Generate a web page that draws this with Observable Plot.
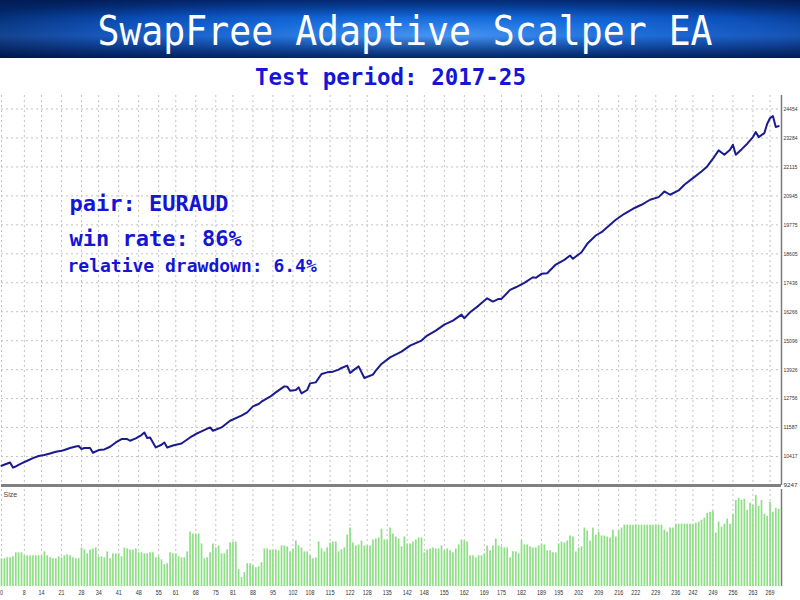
<!DOCTYPE html>
<html><head><meta charset="utf-8">
<script src="https://cdn.jsdelivr.net/npm/d3@7"></script>
<script src="https://cdn.jsdelivr.net/npm/@observablehq/plot@0.6"></script>
<style>
html,body{margin:0;padding:0;background:#fff;}
body{width:800px;height:600px;overflow:hidden;}
#banner{position:relative;height:58px;overflow:hidden;
 background:
  linear-gradient(180deg, rgba(0,18,70,0.6) 0%, rgba(0,0,0,0) 30%, rgba(255,255,255,0.06) 62%, rgba(0,12,55,0.7) 100%),
  radial-gradient(ellipse 62% 95% at 55% 62%, #3a8ff2 0%, #1166d8 38%, #0a4db6 68%, #042c70 100%);}
#banner .t{position:absolute;left:0;width:800px;top:2px;line-height:58px;text-align:center;color:#fff;
 font-family:"DejaVu Sans Mono",monospace;font-size:41px;transform:scaleX(0.89);transform-origin:405px 0;padding-left:10px;box-sizing:border-box;}
#sub{height:33px;line-height:38px;text-align:center;padding-right:19px;color:#1515d5;
 font-family:"DejaVu Sans Mono",monospace;font-weight:bold;font-size:22.5px;}
svg{display:block;}
</style></head><body>
<div id="banner"><div class="t">SwapFree Adaptive Scalper EA</div></div>
<div id="sub">Test period: 2017-25</div>
<div id="main"></div>
<div id="vol"></div>
<script>
// Balance curve: trade number and balance
const trades = [
  0,3,4,5,7,9,11,13,15,17,
  19,21,22,24,26,27,28,29,31,32,
  34,36,38,40,42,44,45,47,49,50,
  51,52,54,56,57,58,60,63,64,66,
  68,70,73,74,77,80,84,86,88,90,
  91,94,96,99,100,101,103,104,105,107,
  108,110,112,114,116,118,119,121,122,123,
  125,127,130,131,133,136,140,143,147,149,
  152,155,158,161,162,164,167,170,172,174,
  175,178,180,183,186,187,189,191,194,197,
  199,200,203,205,208,210,212,215,218,221,
  224,227,230,232,234,237,239,242,245,247,
  249,251,253,255,256,257,259,261,263,264,
  265,267,268,269,270,271,272
];
const balance = [
  10044,10177,9975,10015,10137,10246,10355,10436,10476,10541,
  10610,10650,10679,10759,10824,10840,10719,10759,10759,10569,
  10679,10703,10812,10986,11123,11123,11055,11148,11285,11390,
  11164,11188,10784,10893,10986,10784,10865,10945,11026,11188,
  11326,11431,11593,11459,11593,11863,12066,12199,12442,12539,
  12632,12834,13008,13251,13238,13077,13105,13210,12967,13105,
  13372,13412,13752,13817,13845,13926,13995,14088,13792,13886,
  14059,13590,13724,13886,14156,14423,14654,14897,15099,15301,
  15503,15746,15907,16150,16000,16243,16514,16809,16676,16785,
  16785,17149,17254,17432,17659,17634,17796,17820,18172,18362,
  18536,18403,18670,19009,19345,19478,19681,19980,20222,20425,
  20586,20789,20894,21124,20991,21165,21395,21662,21933,22135,
  22447,22782,22608,22811,23013,22608,22823,23053,23320,23522,
  23320,23482,23862,24088,24169,23725,23765
];
// Lot size of each trade (trade 0 .. 272)
const sizes = [
  0.28,0.28,0.29,0.29,0.30,0.34,0.34,0.34,0.31,0.31,
  0.31,0.31,0.31,0.31,0.31,0.35,0.31,0.29,0.28,0.28,
  0.30,0.29,0.31,0.32,0.31,0.29,0.28,0.28,0.39,0.37,
  0.33,0.37,0.38,0.39,0.30,0.30,0.29,0.35,0.28,0.33,
  0.33,0.33,0.30,0.39,0.38,0.37,0.37,0.38,0.34,0.34,
  0.33,0.33,0.34,0.34,0.29,0.30,0.27,0.22,0.23,0.34,
  0.33,0.33,0.30,0.29,0.29,0.35,0.55,0.53,0.53,0.53,
  0.43,0.28,0.29,0.34,0.43,0.39,0.41,0.33,0.33,0.37,
  0.44,0.45,0.45,0.17,0.09,0.14,0.23,0.23,0.21,0.19,
  0.20,0.24,0.38,0.38,0.37,0.37,0.37,0.36,0.41,0.41,
  0.40,0.35,0.38,0.46,0.41,0.39,0.35,0.35,0.31,0.28,
  0.29,0.45,0.38,0.35,0.39,0.44,0.45,0.45,0.35,0.37,
  0.39,0.52,0.59,0.44,0.41,0.42,0.46,0.41,0.41,0.41,
  0.47,0.48,0.49,0.58,0.47,0.47,0.59,0.53,0.50,0.48,
  0.40,0.50,0.43,0.43,0.45,0.47,0.49,0.49,0.34,0.37,
  0.38,0.39,0.38,0.38,0.41,0.36,0.38,0.36,0.34,0.38,
  0.42,0.47,0.46,0.45,0.31,0.31,0.29,0.31,0.31,0.33,
  0.41,0.36,0.41,0.48,0.41,0.40,0.39,0.39,0.29,0.35,
  0.35,0.33,0.46,0.42,0.42,0.40,0.39,0.39,0.41,0.43,
  0.42,0.36,0.36,0.34,0.34,0.43,0.45,0.44,0.46,0.51,
  0.50,0.35,0.39,0.40,0.59,0.56,0.46,0.59,0.52,0.55,
  0.51,0.51,0.50,0.49,0.57,0.50,0.56,0.59,0.62,0.62,
  0.62,0.62,0.62,0.62,0.62,0.62,0.62,0.62,0.62,0.62,
  0.62,0.62,0.57,0.55,0.59,0.59,0.63,0.63,0.63,0.63,
  0.63,0.63,0.63,0.64,0.65,0.67,0.69,0.74,0.75,0.76,
  0.54,0.65,0.60,0.63,0.68,0.63,0.73,0.87,0.89,0.87,
  0.88,0.77,0.84,0.82,0.92,0.81,0.87,0.73,0.71,0.85,
  0.75,0.79,0.78
];
const yTicks = [9247,10417,11587,12756,13926,15096,16266,17436,18605,19775,20945,22115,23284,24454];
const xTicks = [0,8,14,21,28,34,41,48,55,61,68,75,81,88,95,102,108,115,122,128,135,142,148,155,162,169,175,182,189,195,202,209,216,222,229,236,242,249,256,263,269];
const notes = ["pair: EURAUD", "win rate: 86%", "relative drawdown: 6.4%"];
const xMax = 273;
const yMin = 9247, yMax = 25000;
const sizeMax = 0.98;

const equity = trades.map((t, i) => ({t, v: balance[i]}));
const vol = sizes.map((s, i) => ({t: i, s}));

const axisFont = "'Liberation Sans',sans-serif";
const noteFont = "'DejaVu Sans Mono',monospace";
const gridStyle = {stroke: "#c2c2c2", strokeOpacity: 1, strokeDasharray: "2,3", strokeWidth: 1};
const noteColor = "#1515d5";

const main = Plot.plot({
  width: 800, height: 397,
  marginLeft: 1, marginRight: 19, marginTop: 4, marginBottom: 3,
  x: {domain: [0, xMax], axis: null},
  y: {domain: [yMin, yMax], axis: null},
  style: {background: "transparent", fontFamily: axisFont},
  marks: [
    Plot.gridX(xTicks, gridStyle),
    Plot.gridY(yTicks, gridStyle),
    Plot.axisY(yTicks, {anchor: "right", label: null, tickSize: 0, tickPadding: 2, fontSize: 5.8, fill: "#333", tickFormat: d => String(d)}),
    Plot.line(equity, {x: "t", y: "v", stroke: "#1b1b90", strokeWidth: 2, strokeLinejoin: "round"}),
    Plot.ruleY([yMin], {stroke: "#808080", strokeWidth: 3}),
    Plot.ruleX([xMax], {stroke: "#7a7a7a", strokeWidth: 1.5}),
    Plot.text([notes[0]], {frameAnchor: "top-left", text: d => d, textAnchor: "start", lineAnchor: "top", dx: 68, dy: 100, fontSize: 22, fontWeight: "bold", fontFamily: noteFont, fill: noteColor}),
    Plot.text([notes[1]], {frameAnchor: "top-left", text: d => d, textAnchor: "start", lineAnchor: "top", dx: 68, dy: 134.5, fontSize: 22, fontWeight: "bold", fontFamily: noteFont, fill: noteColor}),
    Plot.text([notes[2]], {frameAnchor: "top-left", text: d => d, textAnchor: "start", lineAnchor: "top", dx: 66, dy: 164, fontSize: 18, fontWeight: "bold", fontFamily: noteFont, fill: noteColor})
  ]
});
document.getElementById("main").appendChild(main);
// narrow the right-axis labels so they fit in the 19px margin
main.querySelectorAll("[aria-label='y-axis tick label'] text").forEach(t => {
  t.setAttribute("textLength", "14");
  t.setAttribute("lengthAdjust", "spacingAndGlyphs");
});

const volume = Plot.plot({
  width: 800, height: 112,
  marginLeft: 1, marginRight: 19, marginTop: 1, marginBottom: 14,
  x: {domain: [0, xMax], axis: null},
  y: {domain: [0, sizeMax], axis: null},
  style: {background: "transparent", fontFamily: axisFont},
  marks: [
    Plot.gridX(xTicks, gridStyle),
    Plot.ruleX(vol, {x: "t", y1: 0, y2: "s", stroke: "#8ede86", strokeWidth: 1.7}),
    Plot.axisX(xTicks, {anchor: "bottom", label: null, tickSize: 0, tickPadding: 4, fontSize: 7, fill: "#333", tickFormat: d => String(d)}),
    Plot.ruleX([xMax], {stroke: "#7a7a7a", strokeWidth: 1.5}),
    Plot.text(["Size"], {frameAnchor: "top-left", text: d => d, textAnchor: "start", lineAnchor: "top", dx: 2, dy: 3, fontSize: 7, fill: "#444"})
  ]
});
document.getElementById("vol").appendChild(volume);
volume.querySelectorAll("[aria-label='x-axis tick label'] text").forEach(t => {
  const n = t.textContent.length;
  t.setAttribute("textLength", String(n * 3));
  t.setAttribute("lengthAdjust", "spacingAndGlyphs");
});
</script>
</body></html>
